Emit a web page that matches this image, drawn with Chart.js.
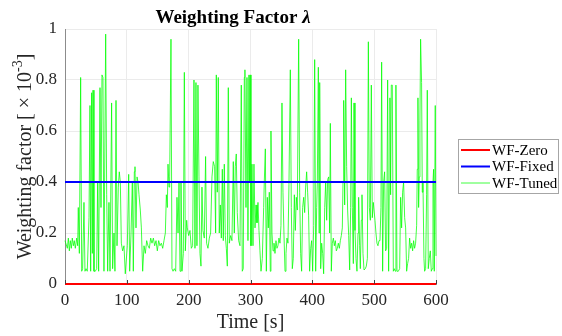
<!DOCTYPE html>
<html>
<head>
<meta charset="utf-8">
<script src="https://cdn.jsdelivr.net/npm/chart.js@4"></script>
<style>
  body { margin: 0; background: #fff; }
  #wrap { width: 562px; height: 336px; }
</style>
</head>
<body>
<div id="wrap"><canvas id="chart"></canvas></div>
<script>
const titleMain = 'Weighting Factor '
const titleSymbol = 'λ'
const xLabel = 'Time [s]'
const yLabelMain = 'Weighting factor [ × 10'
const yLabelSup = '-3'
const yLabelEnd = ']'
const seriesNames = ['WF-Zero', 'WF-Fixed', 'WF-Tuned']
const seriesColors = ['#ff0000', '#0000ff', '#00ff00']
const timeRange = [0, 600]
const zeroLevel = 0
const fixedLevel = 0.4

// WF-Tuned, [time s, value]
const tuned = [
  [0,.17],[1.6,.17],[3.8,.14],[5.4,.18],[7,.13],[8.6,.17],[10.2,.14],[11.8,.18],[13.5,.15],[15,.17],
  [16.7,.14],[18.9,.18],[20.5,.15],[21.5,.30],[23.2,.12],[25.3,.81],[27,.05],[28.5,.06],[30.7,.32],[32.3,.05],
  [34,.06],[36,.05],[38.8,.26],[40.4,.70],[41.5,.05],[43.1,.75],[44.2,.12],[45.3,.76],[46.9,.05],[49,.05],
  [51.2,.06],[52.8,.40],[54.4,.05],[56.6,.77],[58.2,.30],[59.8,.82],[61.4,.81],[63,.05],[65.8,.98],[67.4,.35],
  [69,.05],[71.1,.32],[72.8,.05],[75.4,.71],[77,.06],[79.2,.20],[80.8,.05],[82.5,.72],[84.1,.15],[86.2,.38],
  [87.8,.44],[89.5,.40],[91.1,.16],[93.2,.13],[95.4,.15],[97.5,.04],
  [100.8,.15],[103,.43],[104.6,.05],[106.8,.20],[108.9,.40],[110.5,.05],[112.1,.44],[113.2,.46],[114.8,.22],[116.5,.42],
  [118.1,.40],[119.7,.35],[121.8,.29],[123.5,.22],[125.6,.05],[127.8,.15],[129.9,.12],[132.1,.17],[134.2,.15],[136.4,.14],
  [138.6,.18],[140.7,.16],[142.9,.18],[145,.15],[147.2,.17],[149.3,.13],[151.5,.17],[153.6,.15],[155.8,.16],[158,.14],
  [160.1,.17],[162.3,.20],[163.9,.35],[165.5,.30],[166.6,.47],[168.2,.38],[169.3,.42],[171.4,.96],[173,.06],[174.7,.05],
  [176.8,.06],[179,.05],[181.1,.34],[182.8,.20],[184.4,.40],[186,.05],[187.6,.40],[189.2,.05],[191.4,.12],[193,.83],
  [194.6,.13],[196.8,.25],
  [197.8,.22],[200,.19],[202.1,.21],[204.3,.14],[206.4,.15],[208.6,.80],[210.2,.14],[211.8,.79],[213.4,.15],[215,.78],
  [216.7,.42],[218.3,.12],[219.9,.07],[221.5,.38],[223.1,.21],[225.3,.18],[227.4,.50],[229,.16],[231.2,.14],[233.4,.18],
  [235.5,.20],[237.7,.42],[239.8,.48],[242,.46],[243.6,.20],[244.7,.82],[246.3,.36],[247.9,.81],[249.5,.20],[251.2,.31],
  [252.8,.18],[254.4,.45],[256,.17],[257.6,.47],[259.2,.19],[260.9,.14],[262.5,.07],[264.1,.77],[265.7,.16],[267.9,.19],
  [270,.17],[272.2,.48],[273.8,.20],[275.4,.46],[277,.51],[278.6,.28],[280.8,.17],[283,.15],[285.1,.78],[286.7,.05],
  [288.3,.06],[290,.81],[291,.84],[292.7,.30],[294.3,.81],[295.9,.17],[297.5,.82],[298.4,.40],[299.4,.82],
  [300.8,.15],[302.4,.47],[304,.15],[305.6,.47],[307.3,.22],[308.9,.31],[310.5,.24],[312.1,.32],[313.7,.21],[315.3,.13],
  [317,.05],[319.1,.10],[321.3,.30],[322.3,.40],[324,.53],[325.6,.05],[327.2,.34],[328.8,.22],[330.4,.36],[332,.05],
  [333.1,.60],[334.7,.20],[336.4,.13],[338,.16],[339.6,.12],[341.2,.17],[342.8,.14],[344.4,.15],[346,.18],[347.7,.16],
  [349.3,.23],[350.9,.71],[352.5,.36],[354.1,.20],[355.8,.05],[357.4,.12],[359,.18],[360.6,.16],[362.2,.39],[364.4,.84],
  [366,.30],[367.6,.06],[369.2,.10],[370.9,.35],[372.5,.21],[374.1,.34],[375.7,.29],[377.9,.96],[379.5,.36],[381.1,.12],
  [382.7,.05],[384.3,.30],[386,.34],[387.6,.28],[389.2,.38],[390.8,.44],[392.4,.36],[394,.27],[395.6,.05],[397.3,.14],
  [398.9,.17],
  [400.5,.05],[402.2,.23],[403.8,.88],[405.4,.05],[407,.30],[408.1,.40],[409.7,.85],[410.8,.20],[411.9,.79],[413.5,.06],
  [415.1,.16],[416.7,.12],[418.3,.04],[420,.30],[421.6,.40],[423.2,.25],[424.8,.41],[426.4,.42],[428,.20],[429.1,.63],
  [430.7,.05],[432.3,.16],[434,.18],[435.6,.15],[437.2,.17],[438.8,.13],[440.4,.14],[442,.16],[443.7,.14],[445.3,.17],
  [446.9,.19],[448.5,.22],[449.6,.40],[450.7,.72],[452.3,.31],[453.9,.84],[455.5,.46],[457.1,.29],[458.8,.19],[460.4,.055],
  [462,.30],[463.1,.73],[464.7,.30],[466.3,.08],[467.4,.71],[469,.21],[470.6,.10],[472.2,.05],[473.9,.20],[474.9,.34],
  [476.5,.15],[477.6,.06],[479.2,.25],[480.3,.35],[481.9,.12],[483.6,.055],[485.7,.06],[487.3,.07],[489,.10],[490.6,.95],
  [492.2,.30],[493.8,.25],[495.4,.78],[497,.26],[498.6,.32],
  [501.3,.25],[502.9,.20],[504.5,.16],[506.1,.15],[507.8,.17],[509.4,.17],[511,.30],[512.1,.87],[513.7,.05],[515.3,.40],
  [516.9,.44],[518.5,.13],[520.2,.14],[521.8,.80],[523.4,.05],[524.5,.40],[525.5,.73],[526.6,.35],[527.7,.78],[529.3,.78],
  [531,.05],[532.5,.06],[534.2,.05],[535.2,.78],[536.9,.05],[539,.05],[541.2,.06],[542.8,.34],[544.4,.22],[546,.36],
  [547.6,.40],[549.3,.26],[550.9,.22],[552.5,.05],[554.1,.08],[555.7,.10],[557.3,.18],[559,.14],[560.6,.16],[562.2,.13],
  [563.8,.17],[565.4,.14],[567,.16],[568.7,.23],[569.7,.45],[570.8,.73],[571.9,.30],[573,.42],[574,.64],[575.1,.96],
  [576.7,.79],[577.8,.36],[578.9,.40],[580.5,.10],[581.6,.05],[583.2,.06],[584.8,.35],[585.9,.76],[587.5,.06],[589.1,.10],
  [590.8,.13],[592.4,.05],[594,.06],[595.1,.40],[596.1,.45],[597.2,.05],[598.8,.70],[600,.11]
]

const serif = '"Liberation Serif", "Times New Roman", serif'

// title with italic lambda, y label with superscript, legend box, inside tick marks
const extras = {
  id: 'extras',
  afterDraw(chart) {
    const {ctx, chartArea} = chart
    ctx.save()

    ctx.fillStyle = '#000'
    ctx.textBaseline = 'alphabetic'
    const fMain = 'bold 19px ' + serif
    const fSym = 'italic bold 19px ' + serif
    ctx.font = fMain
    const w1 = ctx.measureText(titleMain).width
    ctx.font = fSym
    const w2 = ctx.measureText(titleSymbol).width
    const tx = 233 - (w1 + w2) / 2
    ctx.font = fMain
    ctx.fillText(titleMain, tx, 23)
    ctx.font = fSym
    ctx.fillText(titleSymbol, tx + w1, 23)

    // y axis label, rotated
    const fLab = '20px ' + serif
    const fSup = '14px ' + serif
    ctx.font = fLab
    const a = ctx.measureText(yLabelMain).width
    const c = ctx.measureText(yLabelEnd).width
    ctx.font = fSup
    const b = ctx.measureText(yLabelSup).width
    const total = a + b + c
    ctx.save()
    ctx.translate(31, (chartArea.top + chartArea.bottom) / 2)
    ctx.rotate(-Math.PI / 2)
    ctx.fillStyle = '#262626'
    let lx = -total / 2
    ctx.font = fLab
    ctx.fillText(yLabelMain, lx, 0)
    ctx.font = fSup
    ctx.fillText(yLabelSup, lx + a, -9)
    ctx.font = fLab
    ctx.fillText(yLabelEnd, lx + a + b, 0)
    ctx.restore()

    // tick marks pointing inward on the bottom axis
    const xs = chart.scales.x
    ctx.strokeStyle = '#404040'
    ctx.lineWidth = 1
    xs.ticks.forEach(t => {
      const px = Math.round(xs.getPixelForValue(t.value)) + 0.5
      ctx.beginPath()
      ctx.moveTo(px, chartArea.bottom)
      ctx.lineTo(px, chartArea.bottom - 4)
      ctx.stroke()
    })

    // legend
    const bx = 458.5, by = 139.5, bw = 100, bh = 54
    ctx.fillStyle = '#fff'
    ctx.fillRect(bx, by, bw, bh)
    ctx.strokeStyle = '#a6a6a6'
    ctx.lineWidth = 1
    ctx.strokeRect(bx, by, bw, bh)
    ctx.font = '15px ' + serif
    ctx.textBaseline = 'middle'
    chart.data.datasets.forEach((ds, i) => {
      const y = 150 + i * 16.5
      ctx.strokeStyle = ds.borderColor
      ctx.lineWidth = ds.borderWidth
      ctx.beginPath()
      ctx.moveTo(461, y)
      ctx.lineTo(490, y)
      ctx.stroke()
      ctx.fillStyle = '#000'
      ctx.fillText(ds.label, 492, y + 1)
    })
    ctx.restore()
  }
}

const data = {
  datasets: [
    {
      label: seriesNames[0],
      data: timeRange.map(t => ({x: t, y: zeroLevel})),
      borderColor: seriesColors[0],
      borderWidth: 2,
      order: 0
    },
    {
      label: seriesNames[1],
      data: timeRange.map(t => ({x: t, y: fixedLevel})),
      borderColor: seriesColors[1],
      borderWidth: 2,
      order: 1
    },
    {
      label: seriesNames[2],
      data: tuned.map(p => ({x: p[0], y: p[1]})),
      borderColor: seriesColors[2],
      borderWidth: 0.75,
      order: 2
    }
  ]
}

const config = {
  type: 'line',
  data: data,
  options: {
    responsive: true,
    maintainAspectRatio: false,
    animation: false,
    clip: false,
    elements: { point: { radius: 0 }, line: { tension: 0 } },
    layout: { padding: { top: 29, right: 126, left: 0, bottom: 0 } },
    scales: {
      x: {
        type: 'linear',
        min: 0,
        max: 600,
        afterFit(s) { s.height = 52 },
        ticks: { stepSize: 100, padding: 6, color: '#262626', font: { family: serif, size: 17 } },
        grid: { color: '#ebebeb', drawTicks: false },
        border: { color: '#8c8c8c' },
        title: { display: true, text: xLabel, color: '#262626', font: { family: serif, size: 20 }, padding: { top: 0, bottom: 1 } }
      },
      y: {
        min: 0,
        max: 1,
        afterFit(s) { s.width = 65 },
        ticks: { stepSize: 0.2, padding: 8, color: '#262626', font: { family: serif, size: 17 },
          callback: v => String(+v.toFixed(1)) },
        grid: { color: '#ebebeb', drawTicks: false },
        border: { color: '#8c8c8c' }
      }
    },
    plugins: {
      legend: { display: false },
      tooltip: { enabled: false }
    }
  },
  plugins: [extras]
}

var myChart = new Chart(document.getElementById('chart'), config)
</script>
</body>
</html>
